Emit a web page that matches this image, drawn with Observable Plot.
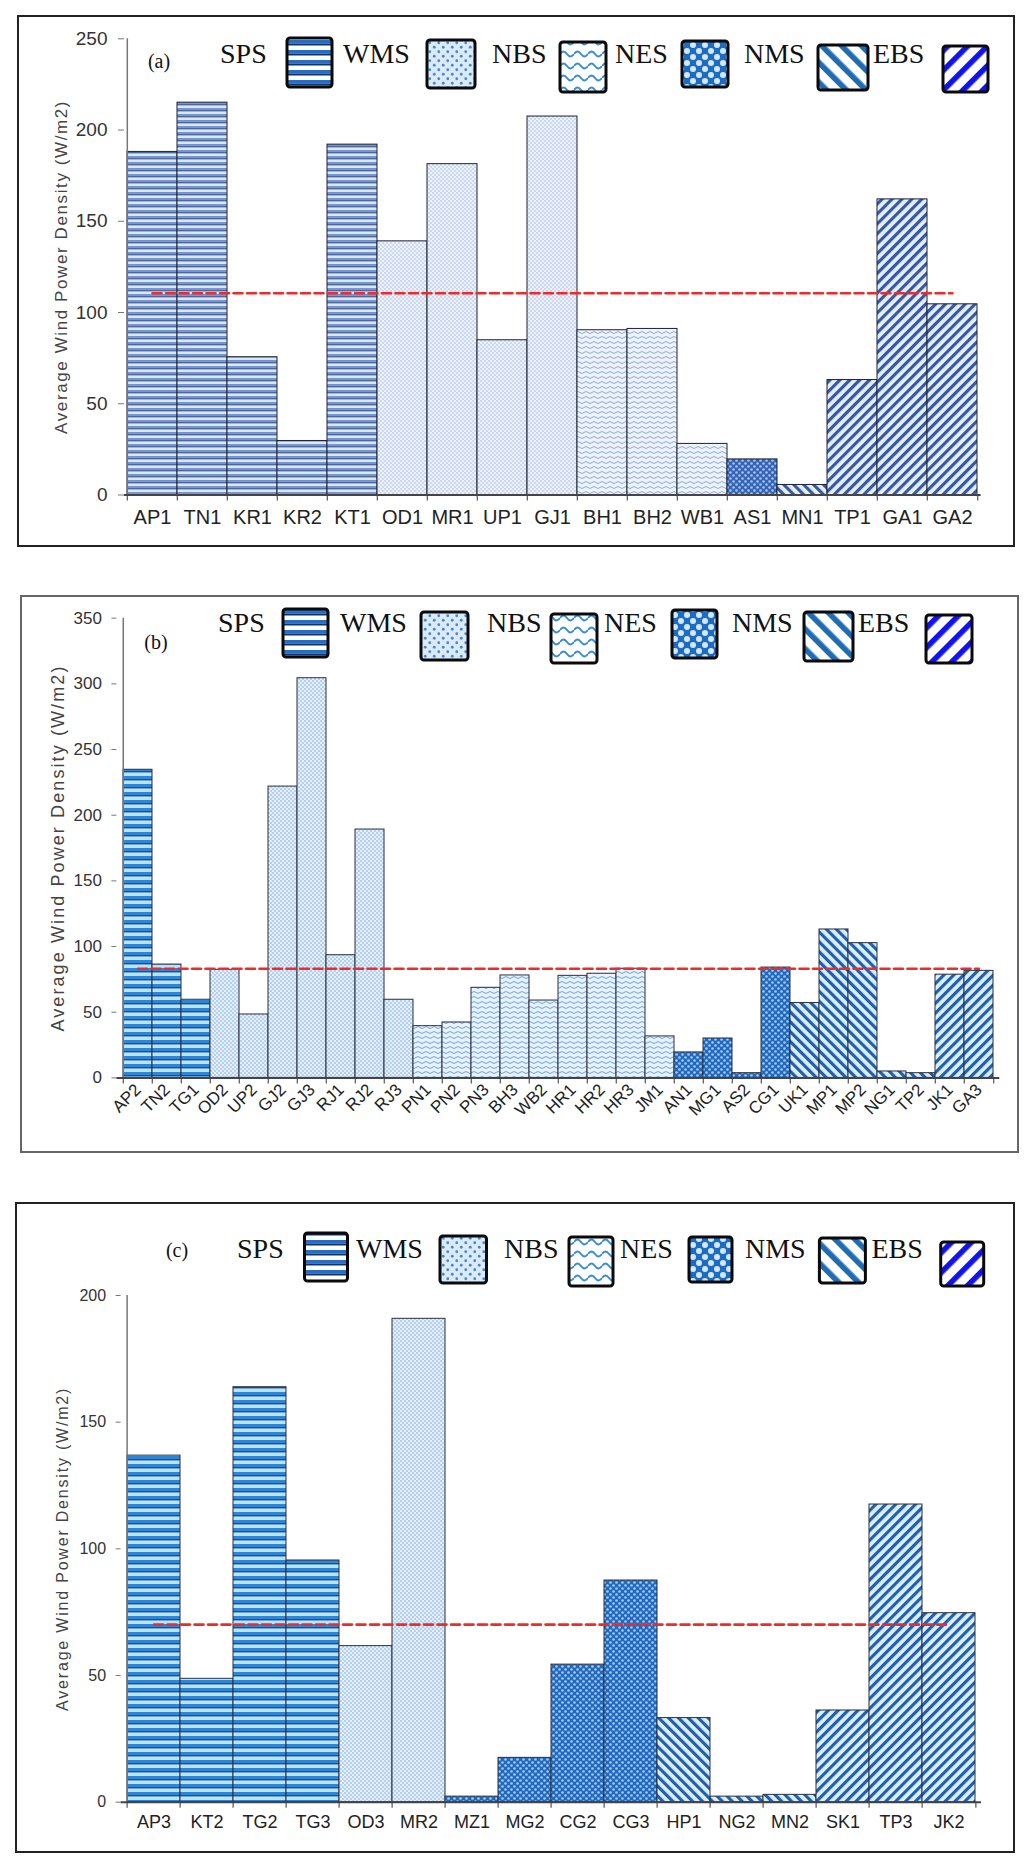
<!DOCTYPE html>
<html><head><meta charset="utf-8">
<script src="https://cdn.jsdelivr.net/npm/d3@7"></script>
<script src="https://cdn.jsdelivr.net/npm/@observablehq/plot@0.6"></script>
<style>
body{margin:0;background:#fff;}
#page{position:relative;width:1034px;height:1871px;overflow:hidden;background:#fff;}
.frame{position:absolute;box-sizing:border-box;}
</style></head><body><div id="page"></div><script>
// ---------------- data ----------------
const groupOrder = ["SPS","WMS","NBS","NES","NMS","EBS"];
const yLabel = "Average Wind Power Density (W/m2)";
const panelTags = ["(a)","(b)","(c)"];

const namesA = ["AP1","TN1","KR1","KR2","KT1","OD1","MR1","UP1","GJ1","BH1","BH2","WB1","AS1","MN1","TP1","GA1","GA2"];
const valuesA = [188,215,75.5,29.6,192,139,181.3,84.8,207.4,90.3,91,28,19.5,5.5,63,162,104.5];
const groupsA = ["SPS","SPS","SPS","SPS","SPS","WMS","WMS","WMS","WMS","NBS","NBS","NBS","NES","NMS","EBS","EBS","EBS"];
const avgA = 110.6;
const yTicksA = [0,50,100,150,200,250];

const namesB = ["AP2","TN2","TG1","OD2","UP2","GJ2","GJ3","RJ1","RJ2","RJ3","PN1","PN2","PN3","BH3","WB2","HR1","HR2","HR3","JM1","AN1","MG1","AS2","CG1","UK1","MP1","MP2","NG1","TP2","JK1","GA3"];
const valuesB = [234.6,86.3,59.5,82.3,48.3,221.8,304.3,93.4,189.1,59.5,39.4,42.2,68.6,78,58.9,77.7,79.3,83.1,31.6,19.4,30,3.6,84,57,113,102.6,4.9,3.6,78.6,81.5];
const groupsB = ["SPS","SPS","SPS","WMS","WMS","WMS","WMS","WMS","WMS","WMS","NBS","NBS","NBS","NBS","NBS","NBS","NBS","NBS","NBS","NES","NES","NES","NES","NMS","NMS","NMS","NMS","NMS","EBS","EBS"];
const avgB = 83.1;
const yTicksB = [0,50,100,150,200,250,300,350];

const namesC = ["AP3","KT2","TG2","TG3","OD3","MR2","MZ1","MG2","CG2","CG3","HP1","NG2","MN2","SK1","TP3","JK2"];
const valuesC = [136.8,48.7,163.8,95.4,61.6,190.8,2.2,17.5,54.3,87.5,33.2,2.2,2.9,36.2,117.5,74.6];
const groupsC = ["SPS","SPS","SPS","SPS","WMS","WMS","NES","NES","NES","NES","NMS","NMS","NMS","EBS","EBS","EBS"];
const avgC = 70.1;
const yTicksC = [0,50,100,150,200];

// ---------------- styles ----------------
const W = 1034;
const palA = {sp:6, spsL:"#dde7f6", spsM:"#7497d1", spsD:"#223f7e", dd:4, dr:0.75, wmsBg:"#edf2fa", wmsDot:"#9ab2dc",
  ww:8, wh:5, wsw:0.9, nbsBg:"#eef3fb", nbsLine:"#7f9fd3", cc:6, cr:1.3, nesBg:"#3563b6", nesDot:"#a9c5ee",
  dg:7, dgw:0.45, dgL:"#e6eef9", nmsD:"#34599e", ebsD:"#34599e"};
const palBC = {sp:8, spsL:"#b9e2fb", spsM:"#2f86d6", spsD:"#174a88", dd:4, dr:0.8, wmsBg:"#e4effb", wmsDot:"#78aadd",
  ww:8, wh:5, wsw:0.9, nbsBg:"#e8f2fc", nbsLine:"#5b98d7", cc:6, cr:1.3, nesBg:"#2468bd", nesDot:"#9fcff6",
  dg:7, dgw:0.45, dgL:"#dceefb", nmsD:"#1f61a8", ebsD:"#1f61a8"};
const palL = {sp:10, spsL:"#ffffff", spsM:"#2a6cc0", spsD:"#0e3470", dd:9, dr:1.4, wmsBg:"#dce9f7", wmsDot:"#3f8ad6",
  ww:14, wh:12, wsw:2, nbsBg:"#ffffff", nbsLine:"#3a8ad8", cc:12, cr:3, nesBg:"#1e6bc2", nesDot:"#d3e8fb",
  dg:14, dgw:0.4, dgL:"#ffffff", nmsD:"#1f6cb5", ebsD:"#1212ee"};

function makePatterns(defs, p, q) {
  const pat = (id, w, h, rot) => {
    const e = defs.append("pattern").attr("id", p + "-" + id).attr("patternUnits", "userSpaceOnUse")
      .attr("width", w).attr("height", h);
    if (rot) e.attr("patternTransform", `rotate(${rot})`);
    return e;
  };
  let e = pat("SPS", 10, q.sp);
  e.append("rect").attr("width", 10).attr("height", q.sp).attr("fill", q.spsL);
  e.append("rect").attr("width", 10).attr("height", q.sp * 0.38).attr("fill", q.spsM);
  e.append("rect").attr("y", q.sp * 0.38).attr("width", 10).attr("height", q.sp * 0.17).attr("fill", q.spsD);
  e = pat("WMS", q.dd, q.dd);
  e.append("rect").attr("width", q.dd).attr("height", q.dd).attr("fill", q.wmsBg);
  e.append("circle").attr("cx", q.dd * 0.25).attr("cy", q.dd * 0.25).attr("r", q.dr).attr("fill", q.wmsDot);
  e.append("circle").attr("cx", q.dd * 0.75).attr("cy", q.dd * 0.75).attr("r", q.dr).attr("fill", q.wmsDot);
  e = pat("NBS", q.ww, q.wh);
  e.append("rect").attr("width", q.ww).attr("height", q.wh).attr("fill", q.nbsBg);
  e.append("path").attr("d", `M0 ${q.wh*0.5} Q${q.ww*0.25} ${q.wh*0.1} ${q.ww*0.5} ${q.wh*0.5} T${q.ww} ${q.wh*0.5}`)
    .attr("fill", "none").attr("stroke", q.nbsLine).attr("stroke-width", q.wsw);
  e = pat("NES", q.cc, q.cc);
  e.append("rect").attr("width", q.cc).attr("height", q.cc).attr("fill", q.nesBg);
  e.append("circle").attr("cx", q.cc * 0.25).attr("cy", q.cc * 0.25).attr("r", q.cr).attr("fill", q.nesDot);
  e.append("circle").attr("cx", q.cc * 0.75).attr("cy", q.cc * 0.75).attr("r", q.cr).attr("fill", q.nesDot);
  e = pat("NMS", q.dg, q.dg, -45);
  e.append("rect").attr("width", q.dg).attr("height", q.dg).attr("fill", q.dgL);
  e.append("rect").attr("width", q.dg * q.dgw).attr("height", q.dg).attr("fill", q.nmsD);
  e = pat("EBS", q.dg, q.dg, 45);
  e.append("rect").attr("width", q.dg).attr("height", q.dg).attr("fill", q.dgL);
  e.append("rect").attr("width", q.dg * q.dgw).attr("height", q.dg).attr("fill", q.ebsD);
}

const page = document.getElementById("page");

function frame(l, t, r, b, color, w) {
  const d = document.createElement("div");
  d.className = "frame";
  Object.assign(d.style, {left: l + "px", top: t + "px", width: (r - l) + "px", height: (b - t) + "px",
    border: `${w}px solid ${color}`});
  page.appendChild(d);
}

function panel(cfg) {
  const {id, names, values, groups, avg, yTicks, yMax, top, height, mL, mR, mT, mB, pal,
    barStroke, xFont, xPad, xRotate, yFont, yTickSize, yPad, labFont, labSpace, labDx, legend} = cfg;
  const data = names.map((n, i) => ({name: n, value: values[i], group: groups[i]}));
  const bw = (W - mL - mR) / names.length;
  const unit = (height - mT - mB) / yMax;
  const tickU = 6 / unit;
  const svg = Plot.plot({
    width: W, height,
    marginLeft: mL, marginRight: mR, marginTop: mT, marginBottom: mB,
    style: {fontFamily: "'Liberation Sans', Arial, sans-serif", background: "transparent", overflow: "visible"},
    x: {domain: names, padding: 0, label: null},
    y: {domain: [0, yMax], label: null},
    color: {type: "identity"},
    marks: [
      Plot.barY(data, {x: "name", y: "value", fill: d => `url(#${id}-${d.group})`, stroke: barStroke, strokeWidth: 1}),
      Plot.ruleX(names, {dx: -bw / 2, y1: 0, y2: -tickU, stroke: "#555", strokeWidth: 1.2}),
      Plot.ruleX([names[names.length - 1]], {dx: bw / 2, y1: 0, y2: -tickU, stroke: "#555", strokeWidth: 1.2}),
      Plot.ruleX([names[0]], {dx: -bw / 2, y1: 0, y2: yMax, stroke: "#777", strokeWidth: 1.5}),
      Plot.ruleY([0], {stroke: "#444", strokeWidth: 2}),
      Plot.axisY({ticks: yTicks, tickSize: yTickSize, tickPadding: yPad, fontSize: yFont, fill: "#333", stroke: "#777", label: null, tickFormat: d => d}),
      Plot.axisX({tickSize: 0, tickPadding: xPad, tickRotate: xRotate, fontSize: xFont, fill: "#222", label: null}),
      Plot.line([names[0], names[names.length - 1]], {x: d => d, y: () => avg, stroke: "#ec2b2b", strokeWidth: 2.6, strokeDasharray: "9,4.5"}),
      Plot.text([yLabel], {frameAnchor: "left", textAnchor: "middle", lineAnchor: "middle", rotate: -90, dx: labDx, text: d => d, fontSize: labFont, fill: "#444", ariaLabel: "ylabel"})
    ]
  });
  svg.style.position = "absolute";
  svg.style.left = "0px";
  svg.style.top = top + "px";
  const s = d3.select(svg);
  const defs = s.insert("defs", ":first-child");
  makePatterns(defs, id, pal);
  makePatterns(defs, id + "L", palL);
  s.selectAll("text").filter(function () { return this.textContent === yLabel; })
    .attr("letter-spacing", labSpace).style("letter-spacing", labSpace + "px");
  // legend
  const g = s.append("g").attr("font-family", "'Liberation Serif', 'Times New Roman', serif").attr("fill", "#111")
    .attr("text-anchor", "start");
  g.append("text").attr("x", legend.tag[0]).attr("y", legend.tag[1] - top).attr("text-anchor", "middle")
    .attr("dominant-baseline", "central").attr("font-size", 20).text(legend.tagText);
  groupOrder.forEach((k, i) => {
    g.append("text").attr("x", legend.tx[i]).attr("y", legend.base - top).attr("font-size", 28)
      .attr("text-anchor", "start").text(k);
    const r = legend.sw[i];
    g.append("rect").attr("x", r[0]).attr("y", r[1] - top).attr("width", r[2]).attr("height", r[3])
      .attr("rx", 3).attr("fill", `url(#${id}L-${k})`).attr("stroke", "#0a0a0a").attr("stroke-width", 3);
  });
  page.appendChild(svg);
}

frame(16.5, 15, 1015, 547, "#222", 2);
frame(19.5, 595, 1019, 1153, "#666", 2);
frame(14.5, 1202, 1015, 1853, "#222", 2.5);

panel({id: "pa", names: namesA, values: valuesA, groups: groupsA, avg: avgA, yTicks: yTicksA, yMax: 250,
  top: 0, height: 560, mL: 124, mR: 53.4, mT: 38.3, mB: 65.5, pal: palA, barStroke: "#1d2233",
  xFont: 20, xPad: 15, xRotate: 0, yFont: 19, yTickSize: 6, yPad: 11, labFont: 17, labSpace: 1.6, labDx: -63,
  legend: {tagText: panelTags[0], tag: [159, 61], base: 63, tx: [220, 343, 492, 615, 744, 873],
    sw: [[287,38,45,49],[427,40,48,48],[560,42,46,50],[682,41,46,46],[818,45,50,45],[943,46,45,46]]}});

panel({id: "pb", names: namesB, values: valuesB, groups: groupsB, avg: avgB, yTicks: yTicksB, yMax: 350,
  top: 600, height: 560, mL: 116.4, mR: 34.7, mT: 17.7, mB: 82.6, pal: palBC, barStroke: "#2a2f3a",
  xFont: 17, xPad: 9, xRotate: -45, yFont: 17, yTickSize: 5, yPad: 10, labFont: 18, labSpace: 2.1, labDx: -59,
  legend: {tagText: panelTags[1], tag: [156, 642], base: 632, tx: [218, 340, 487, 604, 732, 858],
    sw: [[283,609,45,48],[421,612,47,48],[551,614,46,49],[672,610,45,48],[804,612,49,49],[926,615,46,48]]}});

panel({id: "pc", names: namesC, values: valuesC, groups: groupsC, avg: avgC, yTicks: yTicksC, yMax: 200,
  top: 1200, height: 660, mL: 120.6, mR: 53, mT: 95, mB: 58.3, pal: palBC, barStroke: "#2a2f3a",
  xFont: 18, xPad: 13, xRotate: 0, yFont: 16, yTickSize: 5, yPad: 10, labFont: 16, labSpace: 1.8, labDx: -58,
  legend: {tagText: panelTags[2], tag: [177, 1250], base: 1258, tx: [237, 356, 504, 620, 745, 871.5],
    sw: [[304.5,1233,43,48],[440,1236,46.5,47],[569,1237,44,49],[689,1237,43,45],[819.4,1238,46,45],[940.7,1242,43,44]]}});
</script></body></html>
